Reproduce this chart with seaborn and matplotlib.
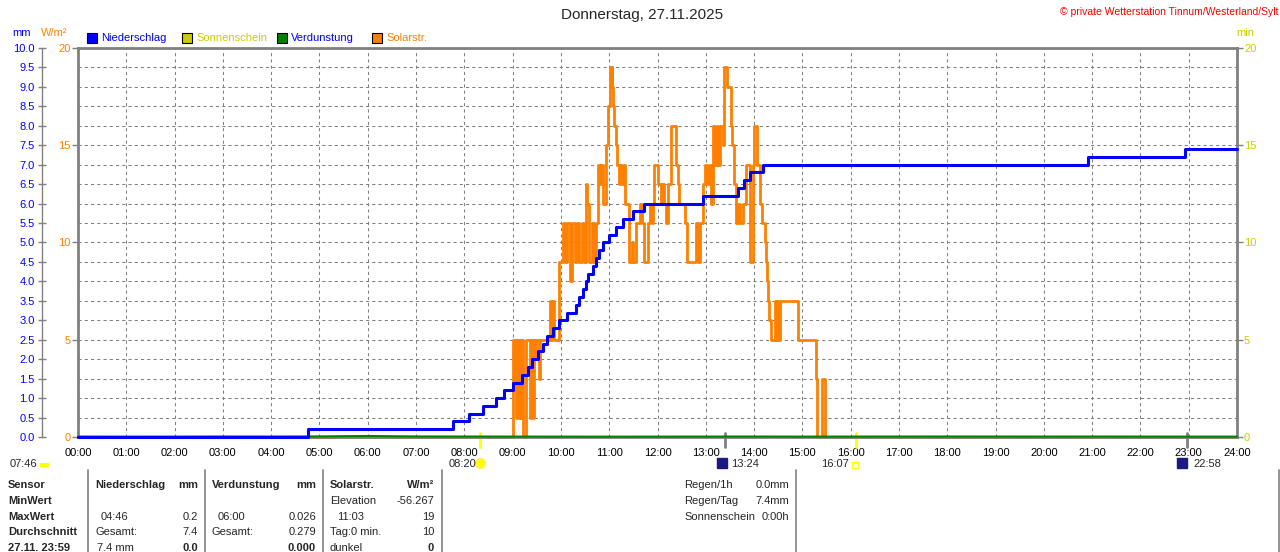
import matplotlib
matplotlib.use("Agg")
import matplotlib.pyplot as plt
import seaborn as sns
from matplotlib.patches import Rectangle
from matplotlib.transforms import blended_transform_factory

# ---- chart values -------------------------------------------------------
hour_labels = ["00:00", "01:00", "02:00", "03:00", "04:00", "05:00", "06:00",
               "07:00", "08:00", "09:00", "10:00", "11:00", "12:00", "13:00",
               "14:00", "15:00", "16:00", "17:00", "18:00", "19:00", "20:00",
               "21:00", "22:00", "23:00", "24:00"]
hour_minutes = [0, 60, 120, 180, 240, 300, 360, 420, 480, 540, 600, 660, 720,
                780, 840, 900, 960, 1020, 1080, 1140, 1200, 1260, 1320, 1380, 1440]

# Niederschlag, cumulative mm (value holds from that minute on)
rain_minutes = [0, 286, 466, 486, 503, 519, 529, 541, 552, 559, 564, 572, 578,
                583, 590, 597, 608, 619, 623, 628, 631, 634, 640, 644, 647, 652,
                660, 669, 677, 689, 703, 777, 820, 827, 835, 851, 1255, 1375, 1440]
rain_mm = [0.0, 0.2, 0.4, 0.6, 0.8, 1.0, 1.2, 1.4, 1.6, 1.8, 2.0, 2.2, 2.4,
           2.6, 2.8, 3.0, 3.2, 3.4, 3.6, 3.8, 4.0, 4.2, 4.4, 4.6, 4.8, 5.0,
           5.2, 5.4, 5.6, 5.8, 6.0, 6.2, 6.4, 6.6, 6.8, 7.0, 7.2, 7.4, 7.4]

# Solarstrahlung W/m² (value holds from that minute on)
solar_minutes = [0, 540, 541, 542, 543, 544, 545, 546, 547, 548, 550, 551,
                 552, 553, 556, 562, 563, 565, 566, 568, 569, 573, 574, 586,
                 588, 589, 592, 598, 602, 605, 608, 611, 614, 617, 620, 623,
                 626, 629, 631, 633, 635, 638, 641, 644, 646, 649, 650, 652,
                 656, 659, 661, 662, 663, 664, 665, 666, 668, 670, 672, 674,
                 676, 678, 680, 684, 685, 688, 690, 693, 698, 701, 703, 708,
                 711, 713, 714, 716, 721, 724, 726, 728, 730, 733, 737, 743,
                 745, 747, 754, 757, 768, 770, 773, 776, 777, 779, 781, 784,
                 787, 789, 792, 794, 795, 798, 801, 803, 806, 811, 813, 815,
                 817, 820, 822, 826, 830, 835, 839, 840, 844, 847, 850, 853,
                 855, 856, 857, 859, 861, 866, 867, 869, 870, 872, 894, 917,
                 918, 925, 928, 1440]
solar_wm2 = [0, 1, 5, 3, 5, 1, 5, 2, 5, 1, 5, 1,
             5, 0, 5, 1, 5, 1, 5, 4, 5, 3, 5, 7,
             5, 7, 5, 9, 11, 9, 11, 8, 11, 9, 11, 9,
             11, 9, 13, 12, 9, 11, 9, 11, 14, 13, 14, 12,
             15, 17, 19, 18, 19, 18, 17, 16, 15, 14, 13, 14,
             13, 14, 12, 11, 9, 10, 9, 11, 12, 11, 9, 11,
             12, 11, 12, 14, 13, 12, 13, 12, 11, 13, 16, 14,
             13, 12, 11, 9, 11, 9, 11, 12, 13, 14, 13, 14,
             12, 16, 14, 16, 14, 16, 15, 19, 18, 16, 15, 13,
             11, 12, 11, 12, 14, 9, 14, 16, 14, 12, 11, 10,
             9, 8, 7, 6, 5, 7, 5, 7, 5, 7, 5, 3,
             0, 3, 0, 0]

# Verdunstung mm per hour
evap_minutes = hour_minutes
evap_mm = [0.012, 0.010, 0.011, 0.013, 0.012, 0.015, 0.026, 0.014, 0.012,
           0.011, 0.010, 0.009, 0.010, 0.011, 0.012, 0.010, 0.011, 0.012,
           0.013, 0.012, 0.011, 0.012, 0.011, 0.010, 0.010]

# sun / moon events under the time axis
event_labels = ["08:20", "13:24", "16:07", "22:58"]
event_minutes = [500, 804, 967, 1378]
dawn_label = "07:46"

legend_names = ["Niederschlag", "Sonnenschein", "Verdunstung", "Solarstr."]
legend_colors = ["#0000FF", "#CCCC00", "#008000", "#FF8000"]
legend_text_colors = ["#0000FF", "#CCCC00", "#0000FF", "#FF8000"]

# summary table below the chart
table_sensor = ["Sensor", "MinWert", "MaxWert", "Durchschnitt", "27.11. 23:59"]
table_rain = [("Niederschlag", "mm"), ("", ""), ("04:46", "0.2"), ("Gesamt:", "7.4"), ("7.4 mm", "0.0")]
table_evap = [("Verdunstung", "mm"), ("", ""), ("06:00", "0.026"), ("Gesamt:", "0.279"), ("", "0.000")]
table_solar = [("Solarstr.", "W/m²"), ("Elevation", "-56.267"), ("11:03", "19"), ("Tag:0 min.", "10"), ("dunkel", "0")]
info_names = ["Regen/1h", "Regen/Tag", "Sonnenschein"]
info_values = ["0.0mm", "7.4mm", "0:00h"]

# ---- styling ------------------------------------------------------------
W, H = 1280, 552
BLUE, ORANGE, OLIVE, GREEN, GRAY = "#0000FF", "#FF8000", "#CCCC00", "#008000", "#808080"
FS = 8

sns.set_theme(style="white")
plt.rcParams["font.family"] = ["Liberation Sans", "DejaVu Sans"]


def fx(x):
    return x / W


def fy(y):
    return 1 - y / H


fig = plt.figure(figsize=(W / 100, H / 100), dpi=100)
fig.patch.set_facecolor("white")
ax = fig.add_axes([fx(78), fy(437), (1237 - 78) / W, (437 - 48) / H])
ax_mm = ax.twinx()
ax_min = ax.twinx()

# main axes: W/m² scale, carries the grid
ax.set_xlim(0, 1440)
ax.set_ylim(0, 20)
ax.set_xticks(hour_minutes)
ax.set_xticklabels(hour_labels)
ax.set_yticks([0, 5, 10, 15, 20])
ax.set_yticks(list(range(21)), minor=True)
ax.grid(True, which="both", color=GRAY, linestyle=(0, (3, 3)), linewidth=0.75)
ax.set_axisbelow(True)
ax.tick_params(axis="x", length=0, pad=8, labelsize=FS, labelcolor="black")
ax.tick_params(axis="y", which="major", length=4, width=1, color=GRAY,
               labelcolor=ORANGE, labelsize=FS, pad=1.5, left=True)
ax.tick_params(axis="y", which="minor", length=0)
for side in ["top", "left", "right", "bottom"]:
    ax.spines[side].set_color(GRAY)
    ax.spines[side].set_linewidth(2)

sns.lineplot(x=solar_minutes, y=solar_wm2, ax=ax, color=ORANGE, linewidth=2.0,
             drawstyle="steps-post", estimator=None, sort=False, clip_on=False)
ax.set_xlabel("")
ax.set_ylabel("")

# mm axis further left
ax_mm.set_ylim(0, 10)
mm_ticks = [i * 0.5 for i in range(21)]
ax_mm.set_yticks(mm_ticks)
ax_mm.set_yticklabels([f"{v:.1f}" for v in mm_ticks])
ax_mm.yaxis.tick_left()
for s in ax_mm.spines.values():
    s.set_visible(False)
ax_mm.spines["left"].set_visible(True)
ax_mm.spines["left"].set_position(("outward", 26))
ax_mm.spines["left"].set_color(GRAY)
ax_mm.spines["left"].set_linewidth(1)
ax_mm.tick_params(axis="y", direction="inout", length=6, width=1, color=GRAY,
                  labelcolor=BLUE, labelsize=FS, pad=2)

sns.lineplot(x=evap_minutes, y=evap_mm, ax=ax_mm, color=GREEN, linewidth=1.5,
             estimator=None, sort=False, clip_on=False)
sns.lineplot(x=rain_minutes, y=rain_mm, ax=ax_mm, color=BLUE, linewidth=2.2,
             drawstyle="steps-post", estimator=None, sort=False, clip_on=False)
ax_mm.set_xlabel("")
ax_mm.set_ylabel("")

# sunshine minutes axis on the right
ax_min.set_ylim(0, 20)
ax_min.set_yticks([0, 5, 10, 15, 20])
for s in ax_min.spines.values():
    s.set_visible(False)
ax_min.tick_params(axis="y", length=4, width=1, color=GRAY, labelcolor=OLIVE,
                   labelsize=FS, pad=1)
ax_min.set_xlim(0, 1440)

# unit labels
fig.text(fx(22), fy(33), "mm", color=BLUE, ha="center", va="center", fontsize=FS)
fig.text(fx(54), fy(33), "W/m²", color=ORANGE, ha="center", va="center", fontsize=FS)
fig.text(fx(1245), fy(33), "min", color=OLIVE, ha="center", va="center", fontsize=FS)

# title and copyright
fig.text(fx(642), fy(15), "Donnerstag, 27.11.2025", ha="center", va="center", fontsize=11)
fig.text(fx(1278), fy(12), "© private Wetterstation Tinnum/Westerland/Sylt",
         ha="right", va="center", fontsize=7.5, color="#FF0000")

# legend
legend_x = [87, 182, 277, 372]
for name, col, tcol, lx in zip(legend_names, legend_colors, legend_text_colors, legend_x):
    fig.patches.append(Rectangle((fx(lx), fy(43)), 10 / W, 10 / H, transform=fig.transFigure,
                                 facecolor=col, edgecolor="black", linewidth=0.8))
    fig.text(fx(lx + 14), fy(38), name, color=tcol, ha="left", va="center", fontsize=FS)

# sun / moon markers on the time axis
tr = blended_transform_factory(ax.transData, fig.transFigure)
event_tick_colors = ["#FFFF00", GRAY, "#FFFF00", GRAY]
for m, col in zip(event_minutes, event_tick_colors):
    ax.plot([m, m], [fy(433), fy(447)], color=col, linewidth=2, transform=tr, clip_on=False)
ax.plot(event_minutes[0], fy(463), "o", ms=7, color="#FFFF00", mec="#FFEE55",
        transform=tr, clip_on=False)
fig.text(fx(476), fy(464), event_labels[0], ha="right", va="center", fontsize=FS)
ax.plot(event_minutes[1] - 4, fy(463), "s", ms=7, color="#1A1A80", transform=tr, clip_on=False)
fig.text(fx(731), fy(464), event_labels[1], ha="left", va="center", fontsize=FS)
ax.plot(event_minutes[2] - 2, fy(465), "s", ms=4, mfc="white", mec="#FFFF00",
        transform=tr, clip_on=False)
fig.text(fx(849), fy(464), event_labels[2], ha="right", va="center", fontsize=FS)
ax.plot(event_minutes[3] - 6, fy(463), "s", ms=7, color="#1A1A80", transform=tr, clip_on=False)
fig.text(fx(1193), fy(464), event_labels[3], ha="left", va="center", fontsize=FS)
fig.text(fx(10), fy(464), dawn_label, ha="left", va="center", fontsize=FS)
fig.patches.append(Rectangle((fx(40), fy(467)), 9 / W, 4 / H, transform=fig.transFigure,
                             facecolor="#FFFF00", edgecolor="none"))

# summary table
row_y = [485, 501, 517, 532, 548]
for x in [88, 205, 323, 442, 796, 1279]:
    fig.add_artist(plt.Line2D([fx(x), fx(x)], [fy(470), fy(552)], color=GRAY,
                              linewidth=1.2, transform=fig.transFigure))
for i, (y, label) in enumerate(zip(row_y, table_sensor)):
    fig.text(fx(8), fy(y), label, ha="left", va="center", fontsize=FS, fontweight="bold")
    header = i == 0
    last = i == 4
    for col, (left_x, right_x, indent) in zip([table_rain, table_evap, table_solar],
                                              [(95, 198, 6), (212, 316, 6), (330, 434, 7)]):
        left, right = col[i]
        lx = left_x + (indent if i == 2 else 0) + (2 if (last and col is table_rain) else 0)
        fig.text(fx(lx), fy(y), left, ha="left", va="center", fontsize=FS,
                 fontweight="bold" if header else "normal")
        fig.text(fx(right_x), fy(y), right, ha="right", va="center", fontsize=FS,
                 fontweight="bold" if (header or last) else "normal")
for y, name, val in zip(row_y, info_names, info_values):
    fig.text(fx(684), fy(y), name, ha="left", va="center", fontsize=FS)
    fig.text(fx(789), fy(y), val, ha="right", va="center", fontsize=FS)

fig.savefig("out.png", dpi=100)
